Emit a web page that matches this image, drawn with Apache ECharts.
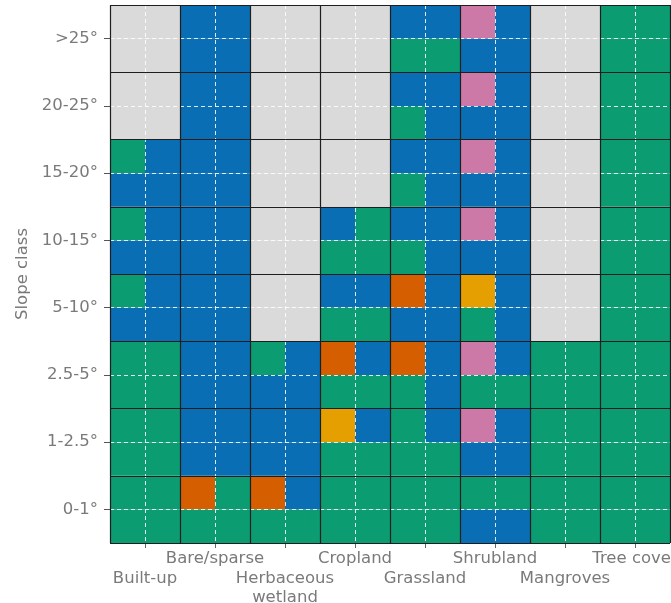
<!DOCTYPE html>
<html>
<head>
<meta charset="utf-8">
<script src="https://cdn.jsdelivr.net/npm/echarts@6/dist/echarts.min.js"></script>
<style>
html, body { margin: 0; padding: 0; background: #fff; }
#chart { width: 671px; height: 603px; }
</style>
</head>
<body>
<div id="chart"></div>
<script>
// land cover classes (x) and slope classes (y, bottom to top)
var landCovers = ['Built-up', 'Bare/sparse', 'Herbaceous\nwetland', 'Cropland', 'Grassland', 'Shrubland', 'Mangroves', 'Tree cover'];
var slopeClasses = ['0-1°', '1-2.5°', '2.5-5°', '5-10°', '10-15°', '15-20°', '20-25°', '>25°'];

// each slope class = 2 sub-rows (upper, lower), 2 sub-cells per land cover
// G grey, B blue, N green, P pink, O vermillion, Y orange
var slope0to1   = ['NNONOBNNNNNNNNNN', 'NNNNNNNNNNBBNNNN'];
var slope1to25  = ['NNBBBBYBNBPBNNNN', 'NNBBBBNNNNBBNNNN'];
var slope25to5  = ['NNBBNBOBOBPBNNNN', 'NNBBBBNNNBNNNNNN'];
var slope5to10  = ['NBBBGGBBOBYBGGNN', 'BBBBGGNNBBNBGGNN'];
var slope10to15 = ['NBBBGGBNBBPBGGNN', 'BBBBGGNNNBBBGGNN'];
var slope15to20 = ['NBBBGGGGBBPBGGNN', 'BBBBGGGGNBBBGGNN'];
var slope20to25 = ['GGBBGGGGBBPBGGNN', 'GGBBGGGGNBBBGGNN'];
var slopeGt25   = ['GGBBGGGGBBPBGGNN', 'GGBBGGGGNNBBGGNN'];

var slopeRows = [slope0to1, slope1to25, slope25to5, slope5to10, slope10to15, slope15to20, slope20to25, slopeGt25];

var palette = {
    G: '#dadada',
    B: '#0a6eb4',
    N: '#0b9c72',
    P: '#cc79a7',
    O: '#d55e00',
    Y: '#e69f00'
};

var centerTicks = [1, 3, 5, 7, 9, 11, 13, 15];
var upperTicks = [3, 7, 11, 15];   // Bare/sparse, Cropland, Shrubland, Tree cover
var lowerTicks = [1, 5, 9, 13];    // Built-up, Herbaceous, Grassland, Mangroves
var txtColor = '#7a7a7a';
var font = 'DejaVu Sans';
var fSize = 16.5;

/*把每个分级的两行展开成子格子*/
var cells = [];
for (var s = 0; s < slopeRows.length; s++) {
    var pair = slopeRows[s];
    for (var k = 0; k < 2; k++) {
        var yIdx = 2 * s + (k === 0 ? 1 : 0);
        var row = pair[k];
        for (var c = 0; c < row.length; c++) {
            cells.push({
                value: [c, yIdx],
                itemStyle: { color: palette[row.charAt(c)] }
            });
        }
    }
}

function renderCell(params, api) {
    var x = api.value(0);
    var y = api.value(1);
    var p0 = api.coord([x, y + 1]);
    var p1 = api.coord([x + 1, y]);
    return {
        type: 'rect',
        shape: { x: p0[0], y: p0[1], width: p1[0] - p0[0], height: p1[1] - p0[1] },
        style: { fill: api.visual('color') }
    };
}

function landLabel(v) {
    return landCovers[Math.round((v - 1) / 2)] || '';
}

function labelStyle(values, margin) {
    return {
        customValues: values,
        showMinLabel: true,
        showMaxLabel: true,
        alignMinLabel: 'center',
        alignMaxLabel: 'center',
        hideOverlap: false,
        margin: margin,
        color: txtColor,
        fontFamily: font,
        fontSize: fSize,
        lineHeight: 19,
        formatter: landLabel
    };
}

var blackSplit = { show: true, lineStyle: { color: '#1e1e1e', width: 1.2 } };
var whiteSplit = { show: true, lineStyle: { color: 'rgba(255,255,255,0.85)', width: 1, type: [4, 3] } };
var noLine = { show: false };

var myChart = echarts.init(document.getElementById('chart'));
myChart.setOption({
    animation: false,
    grid: { left: 110, top: 5, right: 1, bottom: 60, containLabel: false, outerBoundsMode: 'none' },
    xAxis: [{
        // 数据轴: 大格子黑色边框
        type: 'value', min: 0, max: 16, interval: 2, position: 'top', z: 10,
        axisLine: noLine, axisTick: noLine, axisLabel: noLine,
        splitLine: blackSplit
    }, {
        // 刻度和白色虚线在格子中心, 上排标签
        type: 'value', min: 0, max: 16, position: 'bottom', z: 9,
        axisLine: noLine,
        axisTick: { show: true, customValues: centerTicks, length: 5, lineStyle: { color: '#666' } },
        axisLabel: labelStyle(upperTicks, 6),
        splitLine: whiteSplit
    }, {
        // 下排标签
        type: 'value', min: 0, max: 16, position: 'bottom', z: 9,
        axisLine: noLine, axisTick: noLine, splitLine: noLine,
        axisLabel: labelStyle(lowerTicks, 26)
    }],
    yAxis: [{
        type: 'value', min: 0, max: 16, interval: 2, position: 'right', z: 10,
        axisLine: noLine, axisTick: noLine, axisLabel: noLine,
        splitLine: blackSplit
    }, {
        type: 'value', min: 0, max: 16, position: 'left', z: 9,
        name: 'Slope class',
        nameLocation: 'middle',
        nameGap: 78,
        nameTextStyle: { color: txtColor, fontFamily: font, fontSize: fSize },
        axisLine: noLine,
        axisTick: { show: true, customValues: centerTicks, length: 6, lineStyle: { color: '#555' } },
        axisLabel: {
            customValues: centerTicks,
            showMinLabel: true,
            showMaxLabel: true,
            margin: 12,
            color: txtColor,
            fontFamily: font,
            fontSize: fSize,
            formatter: function(v) {
                return slopeClasses[Math.round((v - 1) / 2)] || '';
            }
        },
        splitLine: whiteSplit
    }],
    series: [{
        type: 'custom',
        xAxisIndex: 0,
        yAxisIndex: 0,
        renderItem: renderCell,
        encode: { x: 0, y: 1 },
        data: cells
    }]
});
</script>
</body>
</html>
